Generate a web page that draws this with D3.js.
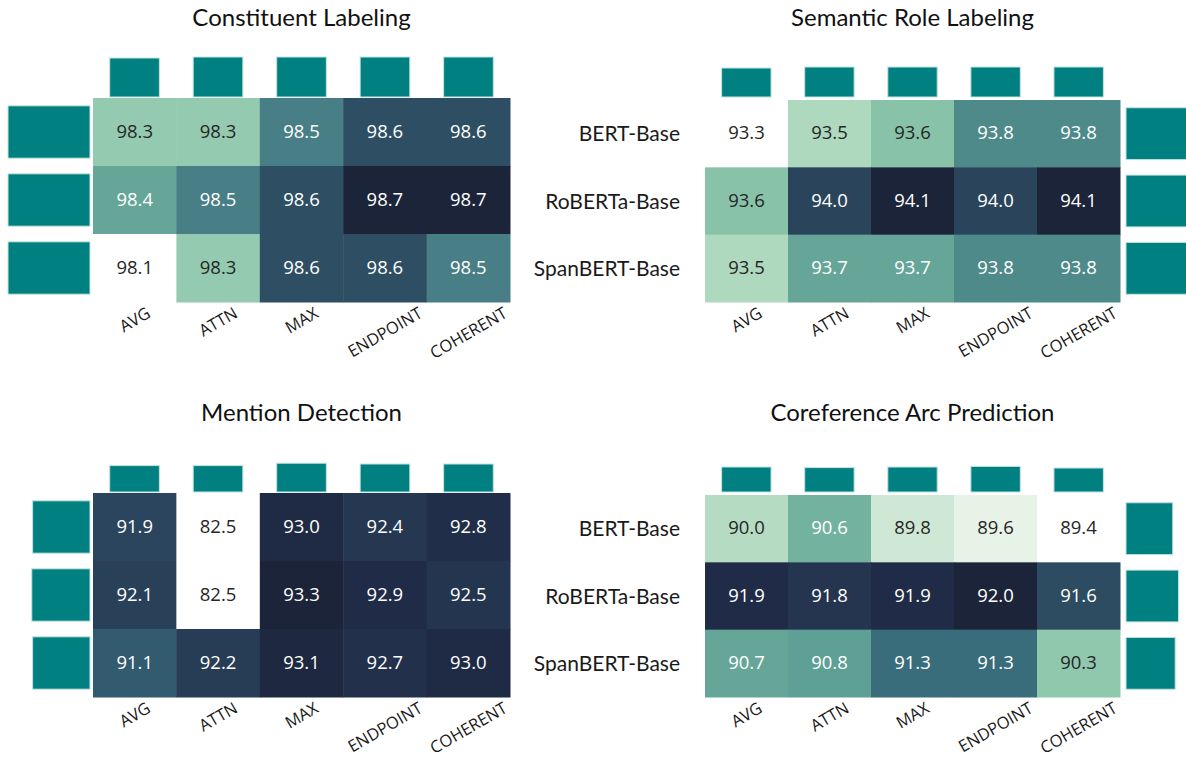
<!DOCTYPE html>
<html lang="en">
<head>
<meta charset="utf-8">
<script src="https://cdn.jsdelivr.net/npm/d3@7"></script>
<style>
  body { margin: 0; background: #fff; }
  svg { display: block; }
</style>
</head>
<body>
<script>
// categories
var models = ["BERT-Base", "RoBERTa-Base", "SpanBERT-Base"];
var methods = ["AVG", "ATTN", "MAX", "ENDPOINT", "COHERENT"];

// heatmap values (rows = models, cols = methods)
var clScores = [[98.3, 98.3, 98.5, 98.6, 98.6],
                [98.4, 98.5, 98.6, 98.7, 98.7],
                [98.1, 98.3, 98.6, 98.6, 98.5]];
var srlScores = [[93.3, 93.5, 93.6, 93.8, 93.8],
                 [93.6, 94.0, 94.1, 94.0, 94.1],
                 [93.5, 93.7, 93.7, 93.8, 93.8]];
var mdScores = [[91.9, 82.5, 93.0, 92.4, 92.8],
                [92.1, 82.5, 93.3, 92.9, 92.5],
                [91.1, 92.2, 93.1, 92.7, 93.0]];
var corefScores = [[90.0, 90.6, 89.8, 89.6, 89.4],
                   [91.9, 91.8, 91.9, 92.0, 91.6],
                   [90.7, 90.8, 91.3, 91.3, 90.3]];

// marginal bars (relative length, 0..1)
var clColBars = [0.975, 1.0, 1.0, 1.0, 1.0];
var clRowBars = [1.0, 1.0, 1.0];
var srlColBars = [0.725, 0.75, 0.75, 0.75, 0.75];
var srlRowBars = [1.0, 1.0, 1.0];
var mdColBars = [0.66, 0.66, 0.72, 0.70, 0.70];
var mdRowBars = [0.70, 0.71, 0.70];
var corefColBars = [0.625, 0.61, 0.625, 0.64, 0.60];
var corefRowBars = [0.57, 0.64, 0.60];

var titles = ["Constituent Labeling", "Semantic Role Labeling", "Mention Detection", "Coreference Arc Prediction"];

// light-to-dark palette sampled from the figure
var paletteStops = [0, 0.077, 0.154, 0.25, 0.333, 0.375, 0.46, 0.5, 0.54, 0.625, 0.667, 0.73, 0.8, 0.833, 0.875, 0.92, 0.96, 1];
var paletteColors = ["#ffffff", "#e8f3e8", "#cfe8d5", "#aed9be", "#94cbb0", "#88c3a9", "#72b29e", "#66a699",
                     "#5e9f96", "#4f8a8a", "#487e85", "#3a6d7c", "#335a6e", "#2e4f63", "#2a445c", "#253650",
                     "#202c48", "#1c243a"];

var w = 1186, h = 760;
var svg = d3.select("body").append("svg").attr("width", w).attr("height", h);

var palette = d3.scaleLinear().domain(paletteStops).range(paletteColors).interpolate(d3.interpolateRgb).clamp(true);

var panels = [
  {scores: clScores, colBars: clColBars, rowBars: clRowBars, title: titles[0], side: "left",
   x0: 93, x1: 510, y0: 98, y1: 302, topGap: 1, titleY: 26},
  {scores: srlScores, colBars: srlColBars, rowBars: srlRowBars, title: titles[1], side: "right",
   x0: 705, x1: 1120, y0: 100, y1: 302, topGap: 3, titleY: 26},
  {scores: mdScores, colBars: mdColBars, rowBars: mdRowBars, title: titles[2], side: "left",
   x0: 93, x1: 510, y0: 493, y1: 697, topGap: 1, titleY: 421},
  {scores: corefScores, colBars: corefColBars, rowBars: corefRowBars, title: titles[3], side: "right",
   x0: 705, x1: 1120, y0: 495, y1: 697, topGap: 3, titleY: 421}
];

var topLen = d3.scaleLinear().domain([0, 1]).range([0, 40]);
var sideLen = d3.scaleLinear().domain([0, 1]).range([0, 82]);

panels.forEach(function(p) {
  var g = svg.append("g");

  var x = d3.scaleBand().domain(methods).range([p.x0, p.x1]);
  var y = d3.scaleBand().domain(models).range([p.y0, p.y1]);
  var xBar = d3.scaleBand().domain(methods).range([p.x0, p.x1]).paddingInner(0.405).paddingOuter(0.2);
  var yBar = d3.scaleBand().domain(models).range([p.y0, p.y1]).paddingInner(0.23).paddingOuter(0.115);

  var flat = [];
  p.scores.forEach(function(row, i) {
    row.forEach(function(v, j) { flat.push({model: models[i], method: methods[j], v: v}); });
  });
  var ext = d3.extent(flat, function(d) { return d.v; });
  var norm = d3.scaleLinear().domain(ext).range([0, 1]);

  // cells
  g.selectAll("rect.cell").data(flat).enter().append("rect")
    .attr("class", "cell")
    .attr("x", function(d) { return x(d.method); })
    .attr("y", function(d) { return y(d.model); })
    .attr("width", x.bandwidth() + 0.5)
    .attr("height", y.bandwidth() + 0.5)
    .attr("fill", function(d) { return palette(norm(d.v)); });

  g.selectAll("text.val").data(flat).enter().append("text")
    .attr("class", "val")
    .attr("x", function(d) { return x(d.method) + x.bandwidth() / 2; })
    .attr("y", function(d) { return y(d.model) + y.bandwidth() / 2 + 5.5; })
    .attr("text-anchor", "middle")
    .style("font-family", "'Open Sans', sans-serif")
    .style("font-size", "18.5px")
    .attr("fill", function(d) { return norm(d.v) < 0.42 ? "#262626" : "#ffffff"; })
    .text(function(d) { return d.v.toFixed(1); });

  // column bars on top
  g.selectAll("rect.colbar").data(p.colBars).enter().append("rect")
    .attr("class", "colbar")
    .attr("x", function(d, j) { return xBar(methods[j]); })
    .attr("width", xBar.bandwidth())
    .attr("y", function(d) { return p.y0 - p.topGap - topLen(d); })
    .attr("height", function(d) { return topLen(d); })
    .attr("fill", "#008080")
    .attr("stroke", "#c4e3e1")
    .attr("stroke-width", 1);

  // row bars at the side
  g.selectAll("rect.rowbar").data(p.rowBars).enter().append("rect")
    .attr("class", "rowbar")
    .attr("y", function(d, i) { return yBar(models[i]); })
    .attr("height", yBar.bandwidth())
    .attr("x", function(d) { return p.side === "left" ? p.x0 - 3 - sideLen(d) : p.x1 + 6; })
    .attr("width", function(d) { return sideLen(d); })
    .attr("fill", "#008080")
    .attr("stroke", "#c4e3e1")
    .attr("stroke-width", 1);

  // row labels (right panels only)
  if (p.side === "right") {
    g.selectAll("text.rowlab").data(models).enter().append("text")
      .attr("class", "rowlab")
      .attr("x", p.x0 - 25)
      .attr("y", function(d) { return y(d) + y.bandwidth() / 2 + 7.5; })
      .attr("text-anchor", "end")
      .style("font-family", "Lato, sans-serif")
      .style("font-size", "21px")
      .attr("fill", "#1a1a1a")
      .text(function(d) { return d; });
  }

  // rotated column labels, centred on the column
  var fs = 16.5;
  g.selectAll("text.collab").data(methods).enter().append("text")
    .attr("class", "collab")
    .attr("text-anchor", "middle")
    .attr("dy", "0.36em")
    .style("font-family", "'Open Sans', sans-serif")
    .style("font-size", fs + "px")
    .attr("fill", "#1a1a1a")
    .text(function(d) { return d; })
    .attr("transform", function(d) {
      var len = this.getComputedTextLength();
      var bh = len * Math.sin(Math.PI / 6) + fs * 0.75 * Math.cos(Math.PI / 6);
      var cx = x(d) + x.bandwidth() / 2;
      var cy = p.y1 + 4 + bh / 2;
      return "translate(" + cx + "," + cy + ") rotate(-30)";
    });

  // title
  g.append("text")
    .attr("x", (p.x0 + p.x1) / 2)
    .attr("y", p.titleY)
    .attr("text-anchor", "middle")
    .style("font-family", "Lato, sans-serif")
    .style("font-size", "24px")
    .attr("fill", "#111")
    .text(p.title);
});
</script>
</body>
</html>
